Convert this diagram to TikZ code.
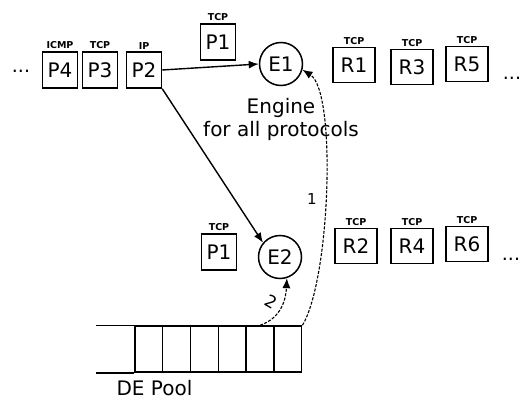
\documentclass[tikz,border=0pt]{standalone}
\usepackage{fontspec}
\setmainfont{DejaVu Sans}
\usetikzlibrary{positioning,arrows.meta}

\tikzset{
  pkt/.style={draw, line width=1.5pt, minimum width=35pt, minimum height=36pt, inner sep=0pt, font=\fontsize{20}{20}\selectfont},
  rsp/.style={pkt, minimum width=42pt, minimum height=35pt},
  eng/.style={draw, circle, line width=1.5pt, minimum size=43pt, inner sep=0pt, font=\fontsize{20}{20}\selectfont},
  proto/.style={font=\bfseries\fontsize{9.5}{10}\selectfont, inner sep=1pt},
  cell/.style={draw, line width=1.5pt, minimum width=27.8pt, minimum height=46pt, inner sep=0pt},
  flow/.style={-{Latex[length=10pt,width=8pt]}, line width=1.4pt},
  back/.style={flow, line width=1.1pt, dash pattern=on 3pt off 1.5pt}
}

\begin{document}
\begin{tikzpicture}[x=1pt, y=-1pt]
\useasboundingbox (0,0) rectangle (524,401);

% Paquetes entrantes
\node[font=\fontsize{19}{19}\selectfont] (dotsP) at (21,71) {...};
\node[pkt] (P4) at (60,70) {P4};
\node[pkt] (P3) at (100,70) {P3};
\node[pkt] (P2) at (144,70) {P2};
\node[pkt] (P1a) at (218,42) {P1};
\node[pkt] (P1b) at (219,252) {P1};

\node[proto, above=1pt of P4] (tP4) {ICMP};
\node[proto, above=1pt of P3] (tP3) {TCP};
\node[proto, above=1pt of P2] (tP2) {IP};
\node[proto, above=1pt of P1a] (tP1a) {TCP};
\node[proto, above=1pt of P1b] (tP1b) {TCP};

% Motores
\node[eng] (E1) at (281,64) {E1};
\node[eng] (E2) at (280,257) {E2};
\node[font=\fontsize{20}{20}\selectfont] (eng) at (281,108) {Engine};
\node[font=\fontsize{20}{20}\selectfont] (all) at (281,131) {for all protocols};

% Resultados
\node[rsp] (R1) at (354,65) {R1};
\node[rsp] (R3) at (412,67) {R3};
\node[rsp] (R5) at (467,64) {R5};
\node[rsp] (R2) at (356,246) {R2};
\node[rsp] (R4) at (412,246) {R4};
\node[rsp] (R6) at (467,244) {R6};
\node[font=\fontsize{19}{19}\selectfont] (dotsR) at (512,78) {...};
\node[font=\fontsize{19}{19}\selectfont] (dotsS) at (511,259) {...};

\foreach \r in {R1,R3,R5,R2,R4,R6}
  \node[proto, above=1pt of \r] (t\r) {TCP};

% DE Pool
\foreach \i in {1,...,6}
  \node[cell] (cell\i) at (121+\i*27.8,349) {};
\draw[line width=1.5pt] (cell1.north west) -- ++(-38,0);
\draw[line width=1.5pt] (cell1.south west) -- ++(-38,0);
\node[font=\fontsize{20}{20}\selectfont, anchor=west] (pool) at (113,388) {DE Pool};

% Conexiones
\draw[flow] (P2.east) -- (E1.west);
\draw[flow] (P2.south east) -- (E2.140);
\draw[back] (cell6.north east) .. controls (330,280) and (337,92) .. (E1.-15)
  node[pos=0.47, left=5pt, font=\fontsize{15}{15}\selectfont] (one) {1};
\draw[back] (cell5.north) .. controls (282,318) and (286,298) .. (E2.-72)
  node[pos=0.5, left=2pt, rotate=-30, font=\fontsize{17}{17}\selectfont] (two) {2};

\end{tikzpicture}
\end{document}
